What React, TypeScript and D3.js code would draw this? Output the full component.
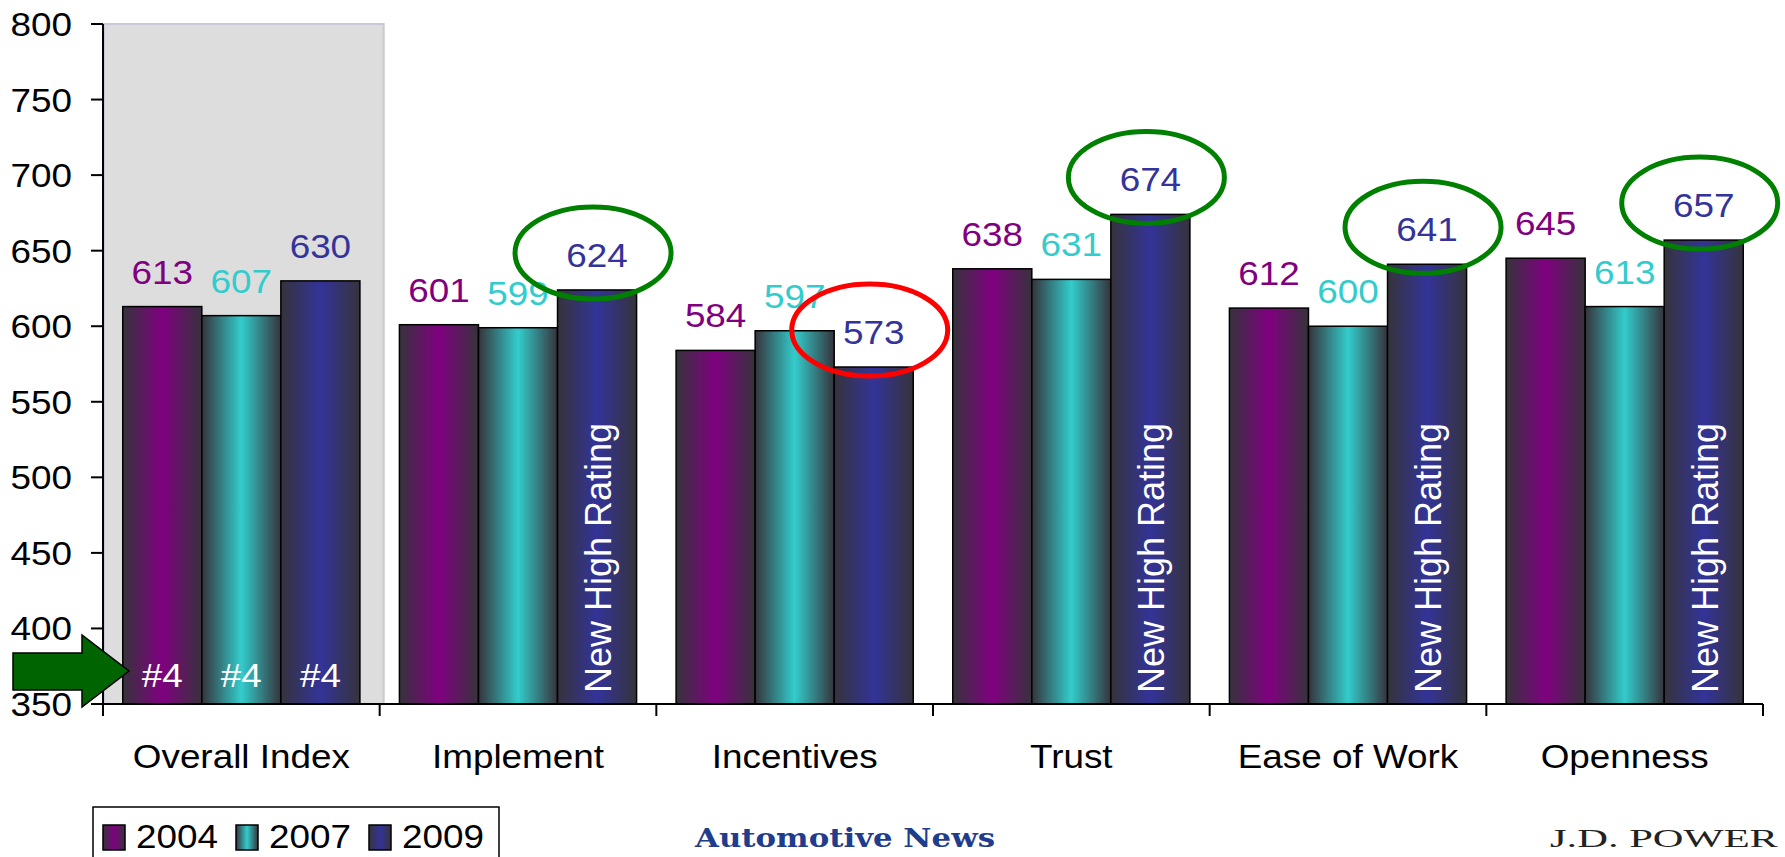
import React from "react";
import * as d3 from "d3";

const categories = ["Overall Index", "Implement", "Incentives", "Trust", "Ease of Work", "Openness"];
const seriesNames = ["2004", "2007", "2009"];
const values2004 = [613, 601, 584, 638, 612, 645];
const values2007 = [607, 599, 597, 631, 600, 613];
const values2009 = [630, 624, 573, 674, 641, 657];
const yTicks = [350, 400, 450, 500, 550, 600, 650, 700, 750, 800];
const newHighRating = [false, true, false, true, true, true];
const circled2009 = ["", "green", "red", "green", "green", "green"];
const overallRanks = ["#4", "#4", "#4"];

const seriesValues = [values2004, values2007, values2009];
const seriesColors = ["#800080", "#33CCCC", "#333399"];
const edgeDark = "#36333b";
const FONT = "'Liberation Sans', Arial, Helvetica, sans-serif";
const FS = 33.5;
const SX = 1.1;

const W = 1785;
const H = 857;
const left = 103;
const right = 1763;
const top = 24;
const bottom = 704;

function T(props: any) {
  const { x, y, children, anchor = "middle", fill = "#000", size = FS, sx = SX, ...rest } = props;
  return (
    <text
      transform={`translate(${x},${y}) scale(${sx},1)`}
      textAnchor={anchor}
      fill={fill}
      fontSize={size}
      fontFamily={FONT}
      {...rest}
    >
      {children}
    </text>
  );
}

export default function App() {
  const y = d3.scaleLinear().domain([350, 800]).range([bottom, top]);
  const x0 = d3.scaleBand().domain(categories).range([left, right]).paddingInner(0).paddingOuter(0);
  const x1 = d3
    .scaleBand()
    .domain(seriesNames)
    .range([0, x0.step()])
    .paddingInner(0)
    .paddingOuter(0.25);
  const bw = x1.bandwidth();

  const arrow = [
    [13, 653],
    [82, 653],
    [82, 635],
    [129, 671],
    [82, 707],
    [82, 690],
    [13, 690],
  ];

  return (
    <svg
      width={W}
      height={H}
      style={{ position: "absolute", left: 0, top: 0, background: "#fff" }}
    >
      <defs>
        {seriesColors.map((c, i) => (
          <linearGradient key={i} id={`g${i}`} x1="0" x2="1" y1="0" y2="0">
            <stop offset="0" stopColor={edgeDark} />
            <stop offset="0.5" stopColor={c} />
            <stop offset="1" stopColor={edgeDark} />
          </linearGradient>
        ))}
      </defs>

      {/* highlighted panel */}
      <rect
        x={left + 1}
        y={top}
        width={x0.step() + 3}
        height={bottom - top}
        fill="#dddddd"
        stroke="#c8c8d8"
        strokeWidth={2}
      />

      {/* bars */}
      {categories.map((cat, ci) =>
        seriesNames.map((s, si) => {
          const v = seriesValues[si][ci];
          const bx = (x0(cat) as number) + (x1(s) as number);
          return (
            <rect
              key={cat + s}
              x={bx}
              y={y(v)}
              width={bw}
              height={bottom - y(v)}
              fill={`url(#g${si})`}
              stroke="#000"
              strokeWidth={1.5}
            />
          );
        })
      )}

      {/* value labels */}
      {categories.map((cat, ci) =>
        seriesNames.map((s, si) => {
          const v = seriesValues[si][ci];
          const cx = (x0(cat) as number) + (x1(s) as number) + bw / 2;
          return (
            <T key={"l" + cat + s} x={cx} y={y(v) - 23} fill={seriesColors[si]}>
              {v}
            </T>
          );
        })
      )}

      {/* ellipses around 2009 labels */}
      {categories.map((cat, ci) => {
        const col = circled2009[ci];
        if (!col) return null;
        const v = values2009[ci];
        const cx = (x0(cat) as number) + (x1("2009") as number) + bw / 2 - 4;
        const cy = y(v) - 23 - 14;
        return (
          <ellipse
            key={"e" + cat}
            cx={cx}
            cy={cy}
            rx={78}
            ry={46}
            fill="none"
            stroke={col === "green" ? "#008000" : "#ff0000"}
            strokeWidth={5}
          />
        );
      })}

      {/* New High Rating */}
      {categories.map((cat, ci) => {
        if (!newHighRating[ci]) return null;
        const cx = (x0(cat) as number) + (x1("2009") as number) + bw / 2;
        return (
          <text
            key={"n" + cat}
            transform={`translate(${cx + 14},${bottom - 11}) rotate(-90)`}
            fill="#fff"
            fontSize={36}
            fontFamily={FONT}
          >
            New High Rating
          </text>
        );
      })}

      {/* ranks */}
      {seriesNames.map((s, si) => (
        <T key={"r" + s} x={(x0(categories[0]) as number) + (x1(s) as number) + bw / 2} y={687} fill="#fff">
          {overallRanks[si]}
        </T>
      ))}

      {/* y axis */}
      <line x1={left} x2={left} y1={top} y2={bottom} stroke="#000" strokeWidth={2} />
      {yTicks.map((t) => (
        <g key={"t" + t}>
          <line x1={left - 12} x2={left} y1={y(t)} y2={y(t)} stroke="#000" strokeWidth={2} />
          <T x={72} y={y(t) + 12} anchor="end">
            {t}
          </T>
        </g>
      ))}

      {/* x axis */}
      <line x1={left} x2={right} y1={bottom} y2={bottom} stroke="#000" strokeWidth={2} />
      {categories.map((cat, ci) => (
        <line
          key={"xt" + ci}
          x1={(x0(cat) as number) + x0.step()}
          x2={(x0(cat) as number) + x0.step()}
          y1={bottom}
          y2={bottom + 12}
          stroke="#000"
          strokeWidth={2}
        />
      ))}
      <line x1={left} x2={left} y1={bottom} y2={bottom + 12} stroke="#000" strokeWidth={2} />
      {categories.map((cat) => (
        <T key={"c" + cat} x={(x0(cat) as number) + x0.step() / 2} y={768}>
          {cat}
        </T>
      ))}

      {/* arrow */}
      <polygon
        points={arrow.map((p) => p.join(",")).join(" ")}
        fill="#006400"
        stroke="#000"
        strokeWidth={1.5}
      />

      {/* legend */}
      <rect x={93} y={807} width={406} height={80} fill="#fff" stroke="#000" strokeWidth={1.5} />
      {seriesNames.map((s, si) => (
        <g key={"lg" + s}>
          <rect
            x={103 + si * 133}
            y={825}
            width={22}
            height={25}
            fill={`url(#g${si})`}
            stroke="#000"
            strokeWidth={1.5}
          />
          <T x={136 + si * 133} y={848} anchor="start">
            {s}
          </T>
        </g>
      ))}

      {/* logos */}
      <text
        x={695}
        y={847}
        fontSize={26}
        fontWeight="bold"
        fontFamily="'DejaVu Serif', serif"
        fill="#1f3d8c"
        textLength={300}
        lengthAdjust="spacingAndGlyphs"
      >
        Automotive News
      </text>
      <text
        x={1550}
        y={847}
        fontSize={26}
        fontFamily="'Liberation Serif', serif"
        fill="#222"
        textLength={228}
        lengthAdjust="spacingAndGlyphs"
      >
        J.D. POWER
      </text>
    </svg>
  );
}
